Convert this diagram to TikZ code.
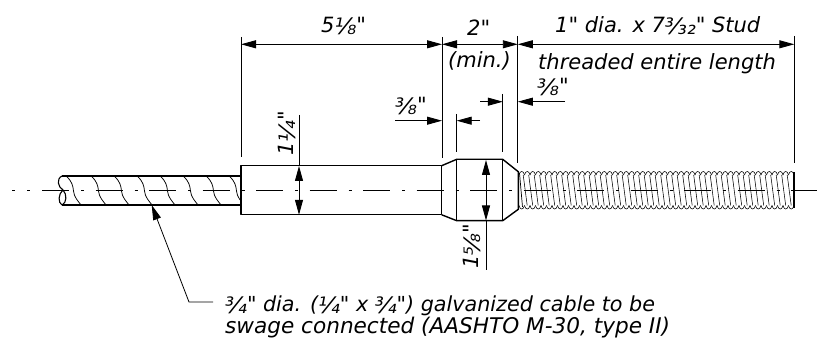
\documentclass[tikz,border=0pt]{standalone}
\usepackage{fontspec}
\newfontfamily\obl{DejaVu Sans Oblique}
\usetikzlibrary{arrows.meta}
\tikzset{
  x=1pt,y=-1pt,
  heavy/.style={line width=1.4pt,line join=round},
  thin line/.style={line width=0.9pt},
  dimline/.style={line width=0.9pt,{Triangle[length=15pt,width=8pt]}-{Triangle[length=15pt,width=8pt]}},
  dimone/.style={line width=0.9pt,-{Triangle[length=15pt,width=8pt]}},
  centre/.style={line width=0.8pt,dash pattern=on 27pt off 12pt on 3pt off 11.5pt},
  lab/.style={font=\obl\fontsize{21}{21}\selectfont,inner sep=0pt,anchor=base west},
  rotlab/.style={lab,rotate=90},
}
\newcommand{\fr}[1]{{\fontsize{22.5}{25}\selectfont\raisebox{-2pt}{#1}}}
\begin{document}
\begin{tikzpicture}
\useasboundingbox (0,0) rectangle (817,339);
\fill[white] (0,0) rectangle (817,339);

% centre line
\coordinate (cl) at (42,190);
\coordinate (cr) at (817,190);
\draw[centre] (cl) -- (cr);
\draw[line width=0.8pt] (12,190) -- (15,190) (27,190) -- (30,190);

% cable
\coordinate (cabTL) at (62,176);
\coordinate (cabBL) at (62,205);
\coordinate (boxTL) at (241,165.7);
\coordinate (boxBR) at (441.7,214.8);
\draw[line width=1.1pt] (cabTL) -- (241,176);
\draw[line width=1.7pt] (cabBL) -- (241,205);
\draw[line width=1.1pt] (cabTL) .. controls (56,179) and (58,187) .. (63,190) .. controls (67,194) and (67,203) .. (cabBL);
\draw[line width=1.1pt] (63,190) .. controls (58,194) and (58,203) .. (cabBL);
\begin{scope}
\clip (60,170) rectangle (241,210);
\foreach \x in {66,91,114,137,160,183,206,229}{
  \draw[line width=0.75pt] (\x,176) .. controls (\x+6,181) and (\x+7,186) .. (\x+7.5,191) .. controls (\x+8,197) and (\x+12,201) .. (\x+15,205);
}
\end{scope}

% sleeve and collar
\draw[heavy] (boxTL) rectangle (boxBR);
\draw[heavy] (boxBR|-boxTL) -- (456.7,159.3) -- (502.7,159.3) -- (518.3,171.7) -- (518.3,209.3) -- (502.7,220.7) -- (456.7,220.7) -- (boxBR);
\coordinate (c1t) at (456.7,159.3); \coordinate (c1b) at (456.7,220.7);
\coordinate (c2t) at (502.7,159.3); \coordinate (c2b) at (502.7,220.7);
\draw[heavy] (c1t) -- (c1b);
\draw[heavy] (c2t) -- (c2b);

% thread
\foreach \i in {0,...,49}{
  \pgfmathsetmacro\xa{519+5.5*\i}
  \pgfmathsetmacro\xc{\xa+5.5}
  \pgfmathsetmacro\xd{\xa+4.2}
  \pgfmathsetmacro\xe{\xa+8.2}
  \ifnum\i<49
  \draw[line width=0.55pt] (\xd,175) -- (\xe,205.5);
  \fi
  \draw[line width=0.55pt] (\xa,175) .. controls (\xa+1,170.3) and (\xc-1,170.3) .. (\xc,175);
  \draw[line width=0.55pt] (\xa,205.5) .. controls (\xa+1,210.2) and (\xc-1,210.2) .. (\xc,205.5);
}
\draw[line width=0.7pt] (519.5,173) -- (522.5,207);
\draw[line width=1.1pt] (794,172.5) -- (794,208.5);

% extension lines
\coordinate (e1t) at (241,37); \coordinate (e1b) at (241,157);
\coordinate (e2t) at (442,37); \coordinate (e2b) at (442,158);
\coordinate (e3t) at (517.8,36); \coordinate (e3b) at (517.8,163);
\coordinate (e4t) at (794.3,36); \coordinate (e4b) at (794.3,163);
\coordinate (e5t) at (456.7,114); \coordinate (e5b) at (456.7,152);
\coordinate (e6t) at (502.9,94); \coordinate (e6b) at (502.9,152);
\foreach \n in {1,...,6}{ \draw[thin line] (e\n t) -- (e\n b); }

% dimension lines
\draw[dimline] (241,44.3) coordinate (d1a) -- (442,44.3) coordinate (d1b);
\draw[dimline] (d1b) -- (517.8,44.3) coordinate (d2b);
\draw[dimline] (d2b) -- (794.3,44.3);
\draw[dimone] (395,120.7) coordinate (s1) -- (442,120.7);
\draw[dimone] (480,120.7) coordinate (s2) -- (456.7,120.7);
\draw[dimone] (480,101.7) coordinate (s3) -- (502.9,101.7);
\draw[dimone] (565,101.7) coordinate (s4) -- (517.8,101.7);

% diameters
\coordinate (v1t) at (299,115); \coordinate (v1a) at (299,166); \coordinate (v1b) at (299,214.8);
\draw[thin line] (v1t) -- (v1a);
\draw[dimline] (v1a) -- (v1b);
\coordinate (v2t) at (486,160); \coordinate (v2a) at (486,220.5); \coordinate (v2b) at (486,270);
\draw[dimline] (v2t) -- (v2a);
\draw[thin line] (v2a) -- (v2b);

% leader
\coordinate (lead1) at (213,302); \coordinate (lead2) at (189,302); \coordinate (lead3) at (151.7,205);
\draw[line width=0.8pt,-{Triangle[length=15pt,width=8pt]}] (lead1) -- (lead2) -- (lead3);

% labels
\node[lab] (t1) at (321,33) {5\fr{⅛}"};
\node[lab] (t2) at (467,36) {2"};
\node[lab] (t3) at (448,68) {(min.)};
\node[lab] (t4) at (395,113) {\fr{⅜}"};
\node[lab] (t5) at (555,33) {1" dia. x 7\fr{³⁄₃₂}" Stud};
\node[lab] (t6) at (538,70) {threaded entire length};
\node[lab] (t7) at (537,94) {\fr{⅜}"};
\node[rotlab] (t8) at (293,156) {1\fr{¼}"};
\node[rotlab] (t9) at (478,269) {1\fr{⅝}"};
\node[lab,font=\obl\fontsize{20.7}{21}\selectfont] (t10) at (225,311) {\fr{¾}" dia. (\fr{¼}" x \fr{¾}") galvanized cable to be};
\node[lab,font=\obl\fontsize{21.6}{21}\selectfont] (t11) at (225,334) {swage connected (AASHTO M-30, type II)};
\end{tikzpicture}
\end{document}
